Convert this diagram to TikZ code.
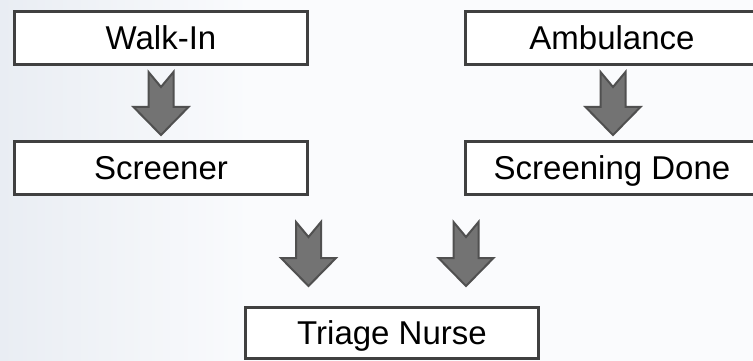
\documentclass[tikz,border=0pt]{standalone}
\usepackage{fontspec}
\setmainfont{Liberation Sans}
\definecolor{bgleft}{HTML}{E9EDF3}
\definecolor{bgright}{HTML}{FAFBFD}
\definecolor{boxline}{HTML}{404040}
\definecolor{arrfill}{HTML}{737373}
\definecolor{arrline}{HTML}{505050}
\tikzset{
  flowbox/.style={draw=boxline, line width=3pt, fill=white, minimum width=293pt,
    minimum height=53pt, inner sep=0pt, text height=23.6pt, text depth=0pt,
    font=\fontsize{33}{40}\selectfont, text=black},
  blockarrow/.style={draw=arrline, fill=arrfill, line width=2pt, line join=miter},
  pics/notcharrow/.style args={#1/#2}{code={
    \path[blockarrow] (-12.5,0) -- (0,15) -- (12.5,0) -- (12.5,#1) -- (27.5,#1)
      -- (0,#2) -- (-27.5,#1) -- (-12.5,#1) -- cycle;
  }}
}
\begin{document}
\begin{tikzpicture}[x=1pt,y=-1pt]
\useasboundingbox (0,0) rectangle (753,361);
\fill[bgright] (0,0) rectangle (753,361);
\shade[left color=bgleft, right color=bgright] (0,0) rectangle (250,361);

\node[flowbox] (walkin) at (161,38) {Walk-In};
\node[flowbox] (screener) at (161,167.5) {Screener};
\node[flowbox] (ambulance) at (612,38) {Ambulance};
\node[flowbox] (done) at (612,167.5) {Screening Done};
\node[flowbox, minimum height=51pt] (triage) at (392,332.5) {Triage Nurse};

\pic at (161,72) {notcharrow={35/63}};
\pic at (613,72) {notcharrow={35/63}};
\pic at (308.5,222) {notcharrow={36/64}};
\pic at (466,222) {notcharrow={36/64}};
\end{tikzpicture}
\end{document}
